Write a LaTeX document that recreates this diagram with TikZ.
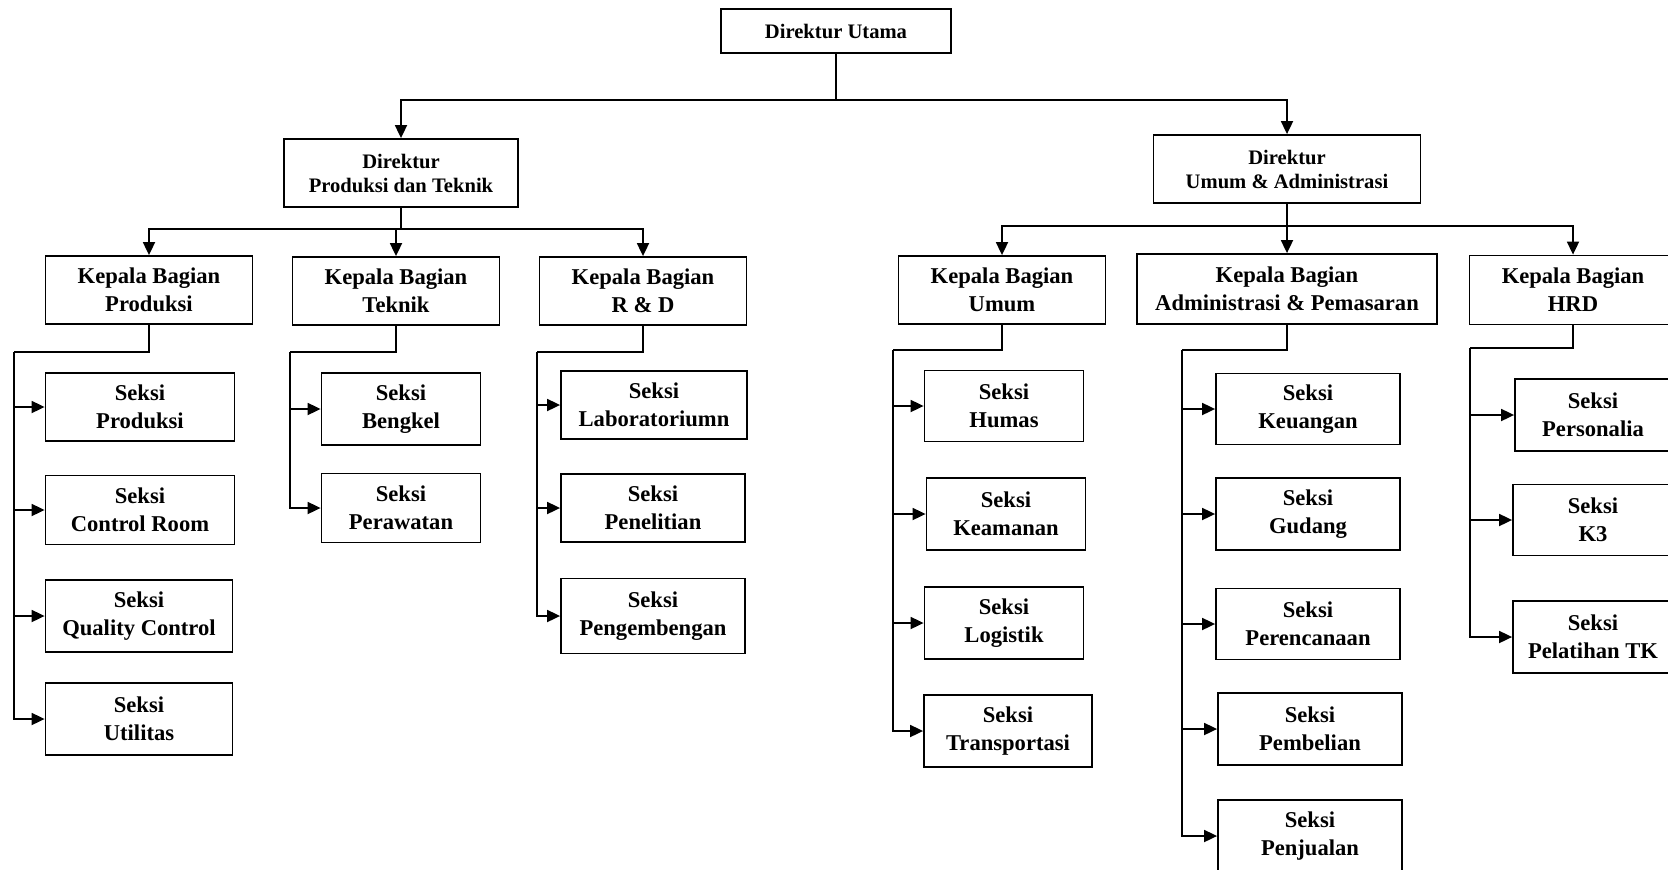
\documentclass[tikz,border=0pt]{standalone}
\usepackage{fontspec}
\setmainfont{Liberation Serif}
\usetikzlibrary{arrows.meta}

\tikzset{
  box/.style={draw, line width=1.8pt, align=center, inner sep=0pt,
    font=\bfseries\fontsize{22.6}{28}\selectfont},
  dirbox/.style={box, font=\bfseries\fontsize{20.6}{24}\selectfont},
  link/.style={line width=1.8pt},
}

\begin{document}
\begin{tikzpicture}[x=1pt, y=-1pt, >={Triangle[length=13pt,width=12pt]}]

  \useasboundingbox (0,0) rectangle (1668,870);
  \clip (0,0) rectangle (1668,870);

  \node[dirbox, minimum width=230, minimum height=44] (dirut) at (836,31) {Direktur Utama};

  \node[dirbox, minimum width=234, minimum height=68] (dirpt) at (401,173) {Direktur\\Produksi dan Teknik};
  \node[dirbox, minimum width=267, minimum height=68] (dirua) at (1287,169) {Direktur\\Umum \& Administrasi};

  \draw[link,->] (dirut.south) -- ++(0,46) -| (dirpt.north);
  \draw[link,->] (dirut.south) -- ++(0,46) -| (dirua.north);

  \node[box, minimum width=207, minimum height=68] (kbprod) at (149,290) {Kepala Bagian\\Produksi};
  \node[box, minimum width=207, minimum height=68] (kbtek) at (396,291) {Kepala Bagian\\Teknik};
  \node[box, minimum width=207, minimum height=68] (kbrd) at (643,291) {Kepala Bagian\\R \& D};

  \node[box, minimum width=207, minimum height=68] (kbumum) at (1002,290) {Kepala Bagian\\Umum};
  \node[box, minimum width=300, minimum height=70] (kbadm) at (1287,289) {Kepala Bagian\\Administrasi \& Pemasaran};
  \node[box, minimum width=207, minimum height=69] (kbhrd) at (1573,290) {Kepala Bagian\\HRD};

  \foreach \k in {kbprod,kbtek,kbrd}
    \draw[link,->] (dirpt.south) -- ++(0,21) -| (\k.north);
  \foreach \k in {kbumum,kbadm,kbhrd}
    \draw[link,->] (dirua.south) -- ++(0,22) -| (\k.north);

  \node[box, minimum width=189, minimum height=68] (sprod) at (140,407) {Seksi\\Produksi};
  \node[box, minimum width=189, minimum height=69] (sctrl) at (140,510) {Seksi\\Control Room};
  \node[box, minimum width=187, minimum height=72] (sqc) at (139,616) {Seksi\\Quality Control};
  \node[box, minimum width=187, minimum height=72] (sutil) at (139,719) {Seksi\\Utilitas};

  \node[box, minimum width=159, minimum height=72] (sbeng) at (401,409) {Seksi\\Bengkel};
  \node[box, minimum width=159, minimum height=69] (spera) at (401,508) {Seksi\\Perawatan};

  \node[box, minimum width=186, minimum height=68] (slab) at (654,405) {Seksi\\Laboratoriumn};
  \node[box, minimum width=184, minimum height=68] (speneli) at (653,508) {Seksi\\Penelitian};
  \node[box, minimum width=184, minimum height=75] (speng) at (653,616) {Seksi\\Pengembengan};

  \node[box, minimum width=159, minimum height=71] (shumas) at (1004,406) {Seksi\\Humas};
  \node[box, minimum width=159, minimum height=72] (skeam) at (1006,514) {Seksi\\Keamanan};
  \node[box, minimum width=159, minimum height=72] (slog) at (1004,623) {Seksi\\Logistik};
  \node[box, minimum width=168, minimum height=72] (strans) at (1008,731) {Seksi\\Transportasi};

  \node[box, minimum width=184, minimum height=71] (skeu) at (1308,409) {Seksi\\Keuangan};
  \node[box, minimum width=184, minimum height=72] (sgud) at (1308,514) {Seksi\\Gudang};
  \node[box, minimum width=184, minimum height=71] (srenc) at (1308,624) {Seksi\\Perencanaan};
  \node[box, minimum width=184, minimum height=72] (sbeli) at (1310,729) {Seksi\\Pembelian};
  \node[box, minimum width=184, minimum height=72] (sjual) at (1310,836) {Seksi\\Penjualan};

  \node[box, minimum width=156, minimum height=72] (spers) at (1593,415) {Seksi\\Personalia};
  \node[box, minimum width=160, minimum height=71] (sk3) at (1593,520) {Seksi\\K3};
  \node[box, minimum width=160, minimum height=72] (spel) at (1593,637) {Seksi\\Pelatihan TK};

  \coordinate (prodbus) at (14,352);
  \coordinate (tekbus) at (290,352);
  \coordinate (rdbus) at (537,352);
  \coordinate (umumbus) at (893,350);
  \coordinate (admbus) at (1182,350);
  \coordinate (hrdbus) at (1470,348);

  \draw[link] (kbprod.south) |- (prodbus);
  \foreach \s in {sprod,sctrl,sqc,sutil}
    \draw[link,->] (prodbus) |- (\s.west);

  \draw[link] (kbtek.south) |- (tekbus);
  \foreach \s in {sbeng,spera}
    \draw[link,->] (tekbus) |- (\s.west);

  \draw[link] (kbrd.south) |- (rdbus);
  \foreach \s in {slab,speneli,speng}
    \draw[link,->] (rdbus) |- (\s.west);

  \draw[link] (kbumum.south) |- (umumbus);
  \foreach \s in {shumas,skeam,slog,strans}
    \draw[link,->] (umumbus) |- (\s.west);

  \draw[link] (kbadm.south) |- (admbus);
  \foreach \s in {skeu,sgud,srenc,sbeli,sjual}
    \draw[link,->] (admbus) |- (\s.west);

  \draw[link] (kbhrd.south) |- (hrdbus);
  \foreach \s in {spers,sk3,spel}
    \draw[link,->] (hrdbus) |- (\s.west);

\end{tikzpicture}
\end{document}
